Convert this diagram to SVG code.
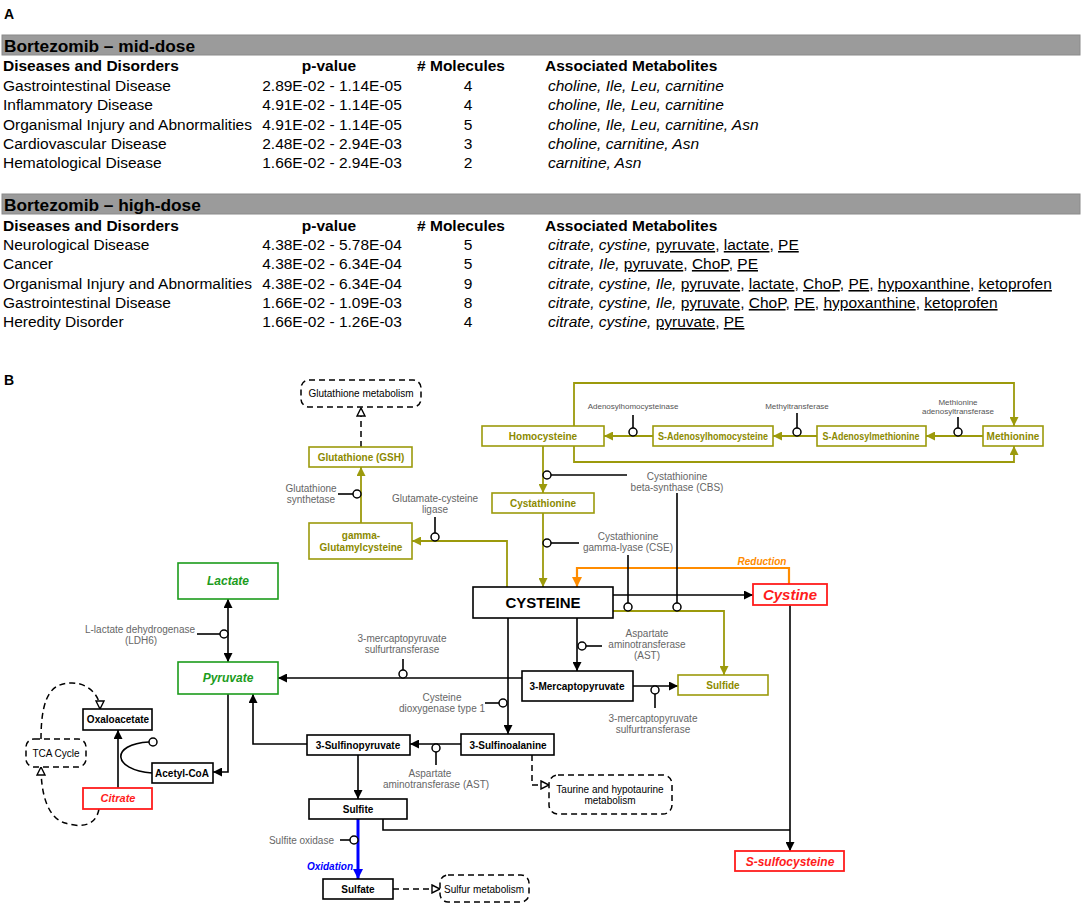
<svg xmlns="http://www.w3.org/2000/svg" width="1084" height="906" viewBox="0 0 1084 906">
<style>
text{font-family:"Liberation Sans",Arial,sans-serif;}
.t16{font-size:15.5px;fill:#000}
.b16{font-size:15.5px;font-weight:bold;fill:#000}
.h18{font-size:17.3px;font-weight:bold;fill:#000}
.bar{fill:#9b9b9b;stroke:#8a8a8a;stroke-width:1}
.it{font-style:italic}
.u{text-decoration:underline}
.lbl{font-size:10px;fill:#666;text-anchor:middle}
.lbs{font-size:8px;fill:#555;text-anchor:middle}
.nb{fill:#fff;stroke:#000;stroke-width:1.6}
.no{fill:#fff;stroke:#9c9a0c;stroke-width:1.6}
.ng{fill:#fff;stroke:#1c9c1c;stroke-width:1.6}
.nr{fill:#fff;stroke:#ff1c1c;stroke-width:1.8}
.nd{fill:#fff;stroke:#000;stroke-width:1.5;stroke-dasharray:6,4}
.tb{font-size:10px;font-weight:bold;fill:#000;text-anchor:middle}
.to{font-size:10px;font-weight:bold;fill:#8c8a00;text-anchor:middle}
.tg{font-size:12px;font-weight:bold;font-style:italic;fill:#1c9c1c;text-anchor:middle}
.tr{font-weight:bold;font-style:italic;fill:#ff1c1c;text-anchor:middle}
.tn{font-size:10px;fill:#000;text-anchor:middle}
.cb{fill:none;stroke:#000;stroke-width:1.6}
.co{fill:none;stroke:#9c9a0c;stroke-width:1.8}
.cd{fill:none;stroke:#000;stroke-width:1.5;stroke-dasharray:6,4}
.ci{fill:#fff;stroke:#000;stroke-width:1.5}
</style>
<defs>
<marker id="ab" viewBox="0 0 10 10" refX="10" refY="5" markerWidth="9" markerHeight="9" markerUnits="userSpaceOnUse" orient="auto-start-reverse"><path d="M0,0 L10,5 L0,10 z" fill="#000"/></marker>
<marker id="ao" viewBox="0 0 10 10" refX="10" refY="5" markerWidth="9" markerHeight="9" markerUnits="userSpaceOnUse" orient="auto"><path d="M0,0 L10,5 L0,10 z" fill="#9c9a0c"/></marker>
<marker id="ar" viewBox="0 0 10 10" refX="10" refY="5" markerWidth="10" markerHeight="10" markerUnits="userSpaceOnUse" orient="auto"><path d="M0,0 L10,5 L0,10 z" fill="#ff8c00"/></marker>
<marker id="au" viewBox="0 0 10 10" refX="10" refY="5" markerWidth="10" markerHeight="10" markerUnits="userSpaceOnUse" orient="auto"><path d="M0,0 L10,5 L0,10 z" fill="#0000ff"/></marker>
<marker id="at" viewBox="0 0 10 10" refX="9" refY="5" markerWidth="10" markerHeight="10" markerUnits="userSpaceOnUse" orient="auto"><path d="M1,1 L9,5 L1,9 z" fill="#fff" stroke="#000" stroke-width="1.4"/></marker>
</defs>
<rect x="0" y="0" width="1084" height="906" fill="#fff"/>

<!-- Panel A -->
<g id="panelA">
<text x="4" y="19" style="font-size:14px;font-weight:bold">A</text>
<rect class="bar" x="2" y="35" width="1078" height="20"/>
<text class="h18" x="4" y="52">Bortezomib – mid-dose</text>
<text class="b16" x="3" y="71">Diseases and Disorders</text>
<text class="b16" x="329" y="71" text-anchor="middle">p-value</text>
<text class="b16" x="461" y="71" text-anchor="middle"># Molecules</text>
<text class="b16" x="545" y="71">Associated Metabolites</text>
<g class="t16">
<text x="3" y="91">Gastrointestinal Disease</text>
<text x="3" y="110">Inflammatory Disease</text>
<text x="3" y="130">Organismal Injury and Abnormalities</text>
<text x="3" y="149">Cardiovascular Disease</text>
<text x="3" y="168">Hematological Disease</text>
</g>
<g class="t16" text-anchor="middle">
<text x="332" y="91">2.89E-02 - 1.14E-05</text>
<text x="332" y="110">4.91E-02 - 1.14E-05</text>
<text x="332" y="130">4.91E-02 - 1.14E-05</text>
<text x="332" y="149">2.48E-02 - 2.94E-03</text>
<text x="332" y="168">1.66E-02 - 2.94E-03</text>
<text x="468" y="91">4</text>
<text x="468" y="110">4</text>
<text x="468" y="130">5</text>
<text x="468" y="149">3</text>
<text x="468" y="168">2</text>
</g>
<g class="t16 it">
<text x="548" y="91">choline, Ile, Leu, carnitine</text>
<text x="548" y="110">choline, Ile, Leu, carnitine</text>
<text x="548" y="130">choline, Ile, Leu, carnitine, Asn</text>
<text x="548" y="149">choline, carnitine, Asn</text>
<text x="548" y="168">carnitine, Asn</text>
</g>

<rect class="bar" x="2" y="194" width="1078" height="20"/>
<text class="h18" x="4" y="211">Bortezomib – high-dose</text>
<text class="b16" x="3" y="231">Diseases and Disorders</text>
<text class="b16" x="329" y="231" text-anchor="middle">p-value</text>
<text class="b16" x="461" y="231" text-anchor="middle"># Molecules</text>
<text class="b16" x="545" y="231">Associated Metabolites</text>
<g class="t16">
<text x="3" y="250">Neurological Disease</text>
<text x="3" y="269">Cancer</text>
<text x="3" y="289">Organismal Injury and Abnormalities</text>
<text x="3" y="308">Gastrointestinal Disease</text>
<text x="3" y="327">Heredity Disorder</text>
</g>
<g class="t16" text-anchor="middle">
<text x="332" y="250">4.38E-02 - 5.78E-04</text>
<text x="332" y="269">4.38E-02 - 6.34E-04</text>
<text x="332" y="289">4.38E-02 - 6.34E-04</text>
<text x="332" y="308">1.66E-02 - 1.09E-03</text>
<text x="332" y="327">1.66E-02 - 1.26E-03</text>
<text x="468" y="250">5</text>
<text x="468" y="269">5</text>
<text x="468" y="289">9</text>
<text x="468" y="308">8</text>
<text x="468" y="327">4</text>
</g>
<g class="t16">
<text x="548" y="250"><tspan class="it">citrate, cystine, </tspan><tspan class="u">pyruvate</tspan>, <tspan class="u">lactate</tspan>, <tspan class="u">PE</tspan></text>
<text x="548" y="269"><tspan class="it">citrate, Ile, </tspan><tspan class="u">pyruvate</tspan>, <tspan class="u">ChoP</tspan>, <tspan class="u">PE</tspan></text>
<text x="548" y="289"><tspan class="it">citrate, cystine, Ile, </tspan><tspan class="u">pyruvate</tspan>, <tspan class="u">lactate</tspan>, <tspan class="u">ChoP</tspan>, <tspan class="u">PE</tspan>, <tspan class="u">hypoxanthine</tspan>, <tspan class="u">ketoprofen</tspan></text>
<text x="548" y="308"><tspan class="it">citrate, cystine, Ile, </tspan><tspan class="u">pyruvate</tspan>, <tspan class="u">ChoP</tspan>, <tspan class="u">PE</tspan>, <tspan class="u">hypoxanthine</tspan>, <tspan class="u">ketoprofen</tspan></text>
<text x="548" y="327"><tspan class="it">citrate, cystine, </tspan><tspan class="u">pyruvate</tspan>, <tspan class="u">PE</tspan></text>
</g>
</g>

<!-- Panel B -->
<text x="4" y="385" style="font-size:14px;font-weight:bold">B</text>

<g id="connectors">
<!-- olive -->
<path class="co" d="M361,523 L361,467" marker-end="url(#ao)"/>
<path class="co" d="M507,587 L507,541 L412,541" marker-end="url(#ao)"/>
<path class="co" d="M543,446 L543,493" marker-end="url(#ao)"/>
<path class="co" d="M543,513 L543,587" marker-end="url(#ao)"/>
<path class="co" d="M653,436 L604,436" marker-end="url(#ao)"/>
<path class="co" d="M817,436 L773,436" marker-end="url(#ao)"/>
<path class="co" d="M983,436 L926,436" marker-end="url(#ao)"/>
<path class="co" d="M574,426 L574,383 L1014,383 L1014,426" marker-end="url(#ao)"/>
<path class="co" d="M574,446 L574,462 L1014,462 L1014,446" marker-end="url(#ao)"/>
<path class="co" d="M613,611 L724,611 L724,675" marker-end="url(#ao)"/>
<!-- orange -->
<path d="M789,584 L789,568 L577,568 L577,587" fill="none" stroke="#ff8c00" stroke-width="2.2" marker-end="url(#ar)"/>
<!-- blue -->
<path d="M358,819 L358,879" fill="none" stroke="#0000ff" stroke-width="3" marker-end="url(#au)"/>
<!-- black -->
<path class="cb" d="M228,599 L228,662" marker-start="url(#ab)" marker-end="url(#ab)"/>
<path class="cb" d="M522,678 L278,678" marker-end="url(#ab)"/>
<path class="cb" d="M508,618 L508,734" marker-end="url(#ab)"/>
<path class="cb" d="M577,618 L577,671" marker-end="url(#ab)"/>
<path class="cb" d="M613,595 L753,595" marker-end="url(#ab)"/>
<path class="cb" d="M633,686 L678,686" marker-end="url(#ab)"/>
<path class="cb" d="M461,744 L410,744" marker-end="url(#ab)"/>
<path class="cb" d="M307,744 L253,744 L253,694" marker-end="url(#ab)"/>
<path class="cb" d="M228,694 L228,772 L213,772" marker-end="url(#ab)"/>
<path class="cb" d="M118,788 L118,730" marker-end="url(#ab)"/>
<path class="cb" d="M152,773 C112,770 110,744 149,742"/>
<path class="cb" d="M358,755 L358,799" marker-end="url(#ab)"/>
<path class="cb" d="M383,819 L383,830 L790,830"/>
<path class="cb" d="M790,605 L790,851" marker-end="url(#ab)"/>
<!-- dashed -->
<path class="cd" d="M361,447 L361,408" marker-end="url(#at)"/>
<path class="cd" d="M532,755 L532,785 L549,785" marker-end="url(#at)"/>
<path class="cd" d="M393,889 L440,889" marker-end="url(#at)"/>
<path class="cd" d="M41,739 C41,690 55,683 72,683 C88,683 100,695 100,709" marker-end="url(#at)"/>
<path class="cd" d="M99,809 C95,830 75,826 65,823 C48,818 41,795 41,767" marker-end="url(#at)"/>
<!-- enzyme modifiers -->
<path class="cb" d="M338,494 L353,494"/><circle class="ci" cx="357" cy="494" r="4"/>
<path class="cb" d="M435,517 L435,533"/><circle class="ci" cx="435" cy="537" r="4"/>
<path class="cb" d="M633,415 L633,428"/><circle class="ci" cx="633" cy="432" r="4"/>
<path class="cb" d="M797,413 L797,428"/><circle class="ci" cx="797" cy="432" r="4"/>
<path class="cb" d="M958,417 L958,428"/><circle class="ci" cx="958" cy="432" r="4"/>
<path class="cb" d="M551,475 L627,475"/><circle class="ci" cx="547" cy="475" r="4"/>
<path class="cb" d="M677,493 L677,603"/><circle class="ci" cx="677" cy="607" r="4"/>
<path class="cb" d="M551,543 L579,543"/><circle class="ci" cx="547" cy="543" r="4"/>
<path class="cb" d="M628,555 L628,603"/><circle class="ci" cx="628" cy="607" r="4"/>
<path class="cb" d="M586,646 L602,646"/><circle class="ci" cx="582" cy="646" r="4"/>
<path class="cb" d="M403,659 L403,670"/><circle class="ci" cx="403" cy="674" r="4"/>
<path class="cb" d="M485,703 L499,703"/><circle class="ci" cx="503" cy="703" r="4"/>
<path class="cb" d="M655,694 L655,708"/><circle class="ci" cx="655" cy="690" r="4"/>
<path class="cb" d="M436,752 L436,765"/><circle class="ci" cx="436" cy="748" r="4"/>
<path class="cb" d="M197,634 L220,634"/><circle class="ci" cx="224" cy="634" r="4"/>
<path class="cb" d="M340,840 L350,840"/><circle class="ci" cx="354" cy="840" r="4"/>
<circle class="ci" cx="153" cy="742" r="4"/>
</g>

<g id="labels">
<text class="lbl" x="311" y="492">Glutathione</text>
<text class="lbl" x="311" y="503">synthetase</text>
<text class="lbl" x="435" y="502">Glutamate-cysteine</text>
<text class="lbl" x="435" y="513">ligase</text>
<text class="lbs" x="633" y="409">Adenosylhomocysteinase</text>
<text class="lbs" x="797" y="409">Methyltransferase</text>
<text class="lbs" x="958" y="405">Methionine</text>
<text class="lbs" x="958" y="414">adenosyltransferase</text>
<text class="lbl" x="677" y="480">Cystathionine</text>
<text class="lbl" x="677" y="491">beta-synthase (CBS)</text>
<text class="lbl" x="628" y="540">Cystathionine</text>
<text class="lbl" x="628" y="551">gamma-lyase (CSE)</text>
<text class="lbl" x="647" y="637">Aspartate</text>
<text class="lbl" x="647" y="648">aminotransferase</text>
<text class="lbl" x="647" y="659">(AST)</text>
<text class="lbl" x="402" y="642">3-mercaptopyruvate</text>
<text class="lbl" x="402" y="653">sulfurtransferase</text>
<text class="lbl" x="442" y="701">Cysteine</text>
<text class="lbl" x="442" y="712">dioxygenase type 1</text>
<text class="lbl" x="653" y="722">3-mercaptopyruvate</text>
<text class="lbl" x="653" y="733">sulfurtransferase</text>
<text class="lbl" x="430" y="777">Aspartate</text>
<text class="lbl" x="436" y="788">aminotransferase (AST)</text>
<text class="lbl" x="140" y="633">L-lactate dehydrogenase</text>
<text class="lbl" x="141" y="644">(LDH6)</text>
<text class="lbl" x="334" y="844" style="text-anchor:end">Sulfite oxidase</text>
<text x="762" y="565" style="font-size:10px;font-weight:bold;font-style:italic;fill:#ff8c00;text-anchor:middle">Reduction</text>
<text x="353" y="870" style="font-size:10px;font-weight:bold;font-style:italic;fill:#0000ff;text-anchor:end">Oxidation</text>
</g>

<g id="n-glutathione-metabolism"><rect class="nd" x="301" y="380" width="120" height="27" rx="8"/><text class="tn" x="361" y="397">Glutathione metabolism</text></g>
<g id="n-gsh"><rect class="no" x="309" y="447" width="103" height="20"/><text class="to" x="361" y="461">Glutathione (GSH)</text></g>
<g id="n-ggc"><rect class="no" x="309" y="523" width="103" height="36"/><text class="to" x="361" y="539">gamma-</text><text class="to" x="361" y="551">Glutamylcysteine</text></g>
<g id="n-homocysteine"><rect class="no" x="482" y="426" width="122" height="20"/><text class="to" x="543" y="440">Homocysteine</text></g>
<g id="n-sah"><rect class="no" x="653" y="426" width="120" height="20"/><text class="to" x="713" y="440" textLength="110" lengthAdjust="spacingAndGlyphs">S-Adenosylhomocysteine</text></g>
<g id="n-sam"><rect class="no" x="817" y="426" width="109" height="20"/><text class="to" x="871" y="440" textLength="97" lengthAdjust="spacingAndGlyphs">S-Adenosylmethionine</text></g>
<g id="n-methionine"><rect class="no" x="983" y="426" width="60" height="20"/><text class="to" x="1013" y="440">Methionine</text></g>
<g id="n-cystathionine"><rect class="no" x="492" y="493" width="102" height="20"/><text class="to" x="543" y="507">Cystathionine</text></g>
<g id="n-cysteine"><rect class="nb" x="473" y="587" width="140" height="31"/><text x="543" y="608" style="font-size:15px;font-weight:bold;fill:#000;text-anchor:middle">CYSTEINE</text></g>
<g id="n-cystine"><rect class="nr" x="753" y="584" width="74" height="21"/><text class="tr" x="790" y="600" style="font-size:15px">Cystine</text></g>
<g id="n-lactate"><rect class="ng" x="178" y="563" width="100" height="36"/><text class="tg" x="228" y="585">Lactate</text></g>
<g id="n-pyruvate"><rect class="ng" x="178" y="662" width="100" height="32"/><text class="tg" x="228" y="682">Pyruvate</text></g>
<g id="n-3mp"><rect class="nb" x="522" y="671" width="111" height="30"/><text class="tb" x="577" y="690">3-Mercaptopyruvate</text></g>
<g id="n-sulfide"><rect class="no" x="678" y="675" width="90" height="20"/><text class="to" x="723" y="689">Sulfide</text></g>
<g id="n-oxaloacetate"><rect class="nb" x="83" y="709" width="69" height="21"/><text class="tb" x="118" y="723">Oxaloacetate</text></g>
<g id="n-acetylcoa"><rect class="nb" x="152" y="763" width="61" height="20"/><text class="tb" x="182" y="777">Acetyl-CoA</text></g>
<g id="n-citrate"><rect class="nr" x="83" y="788" width="69" height="21"/><text class="tr" x="118" y="802" style="font-size:11px">Citrate</text></g>
<g id="n-tca"><rect class="nd" x="26" y="739" width="60" height="28" rx="8"/><text class="tn" x="56" y="757">TCA Cycle</text></g>
<g id="n-3sp"><rect class="nb" x="307" y="735" width="103" height="20"/><text class="tb" x="358" y="749">3-Sulfinopyruvate</text></g>
<g id="n-3sa"><rect class="nb" x="461" y="734" width="93" height="21"/><text class="tb" x="508" y="749">3-Sulfinoalanine</text></g>
<g id="n-taurine"><rect class="nd" x="549" y="775" width="123" height="39" rx="9"/><text class="tn" x="610" y="793">Taurine and hypotaurine</text><text class="tn" x="610" y="804">metabolism</text></g>
<g id="n-sulfite"><rect class="nb" x="309" y="799" width="98" height="20"/><text class="tb" x="358" y="813">Sulfite</text></g>
<g id="n-sulfate"><rect class="nb" x="323" y="879" width="70" height="20"/><text class="tb" x="358" y="893">Sulfate</text></g>
<g id="n-sulfur-metabolism"><rect class="nd" x="440" y="875" width="89" height="27" rx="8"/><text class="tn" x="484" y="893">Sulfur metabolism</text></g>
<g id="n-ssulfocysteine"><rect class="nr" x="735" y="851" width="109" height="20"/><text class="tr" x="790" y="866" style="font-size:12px">S-sulfocysteine</text></g>
</svg>
